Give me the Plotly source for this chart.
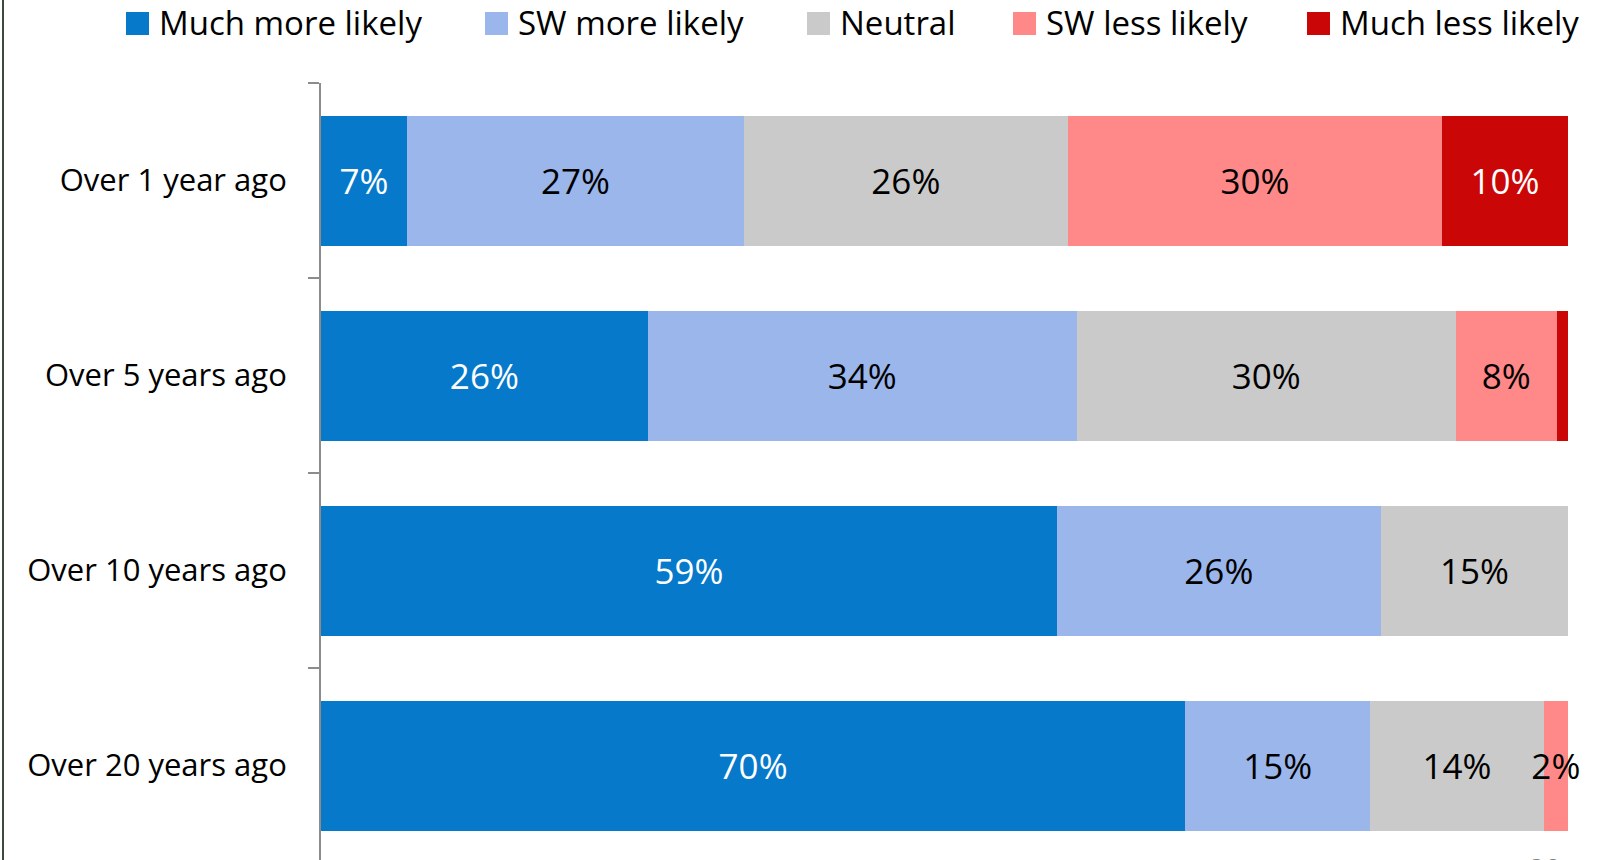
import plotly.graph_objects as go

# ---------------- data ----------------
categories = ["Over 1 year ago", "Over 5 years ago", "Over 10 years ago", "Over 20 years ago"]
series_names = ["Much more likely", "SW more likely", "Neutral", "SW less likely", "Much less likely"]

much_more = [6.9, 26.2, 59.0, 69.3]
sw_more = [27.0, 34.4, 26.0, 14.85]
neutral = [26.0, 30.4, 15.0, 13.9]
sw_less = [30.0, 8.1, 0.0, 1.95]
much_less = [10.1, 0.9, 0.0, 0.0]

much_more_labels = ["7%", "26%", "59%", "70%"]
sw_more_labels = ["27%", "34%", "26%", "15%"]
neutral_labels = ["26%", "30%", "15%", "14%"]
sw_less_labels = ["30%", "8%", "", "2%"]
much_less_labels = ["10%", "", "", ""]

page_number = "20"

# ---------------- style ----------------
colors = ["#0679CB", "#9BB6EA", "#CACACA", "#FF8888", "#CB0606"]
text_colors = ["#FFFFFF", "#000000", "#000000", "#000000", "#FFFFFF"]
FONT = "Open Sans"

W, H = 1609, 860
ML, MR, MT, MB = 321, 41, 83, 0
PW, PH = W - ML - MR, H - MT - MB
BAND = 195.0


def px2x(px):
    return (px - ML) / PW


def py2y(py):
    return (H - MB - py) / PH


values = [much_more, sw_more, neutral, sw_less, much_less]
labels = [much_more_labels, sw_more_labels, neutral_labels, sw_less_labels, much_less_labels]

fig = go.Figure()
for name, vals, labs, col, tcol in zip(series_names, values, labels, colors, text_colors):
    fig.add_trace(go.Bar(
        y=categories, x=vals, name=name, orientation="h",
        marker=dict(color=col, line=dict(width=0)),
        text=labs, textposition="inside", insidetextanchor="middle",
        textangle=0, cliponaxis=False,
        textfont=dict(family=FONT, size=35, color=tcol),
        hoverinfo="skip",
    ))

fig.update_layout(
    width=W, height=H,
    margin=dict(l=ML, r=MR, t=MT, b=MB, pad=0),
    barmode="stack", bargap=1 - 130 / 195,
    plot_bgcolor="white", paper_bgcolor="white",
    showlegend=False,
    uniformtext=dict(mode="show", minsize=35),
    font=dict(family=FONT, color="#000000"),
)

fig.update_xaxes(range=[0, 100], visible=False, showgrid=False, zeroline=False, fixedrange=True)
fig.update_yaxes(
    type="category", categoryorder="array", categoryarray=categories,
    range=[-0.5 + PH / BAND, -0.5],
    showgrid=False, zeroline=False,
    showline=True, linecolor="#8C8C8C", linewidth=2,
    ticks="outside", tickson="boundaries", ticklen=11, tickwidth=2, tickcolor="#8C8C8C",
    tickfont=dict(family=FONT, size=31, color="#000000"),
    ticklabelstandoff=26,
)

# ---- custom legend (large squares) ----
legend_sq_left = [126, 485, 807, 1013, 1307]
SQ = 23
SQ_TOP = 12
shapes = []
annotations = []
for name, col, sx in zip(series_names, colors, legend_sq_left):
    shapes.append(dict(type="rect", xref="paper", yref="paper",
                       x0=px2x(sx), x1=px2x(sx + SQ), y0=py2y(SQ_TOP + SQ), y1=py2y(SQ_TOP),
                       fillcolor=col, line=dict(width=0), layer="above"))
    annotations.append(dict(xref="paper", yref="paper", x=px2x(sx + 31), y=py2y(SQ_TOP + SQ / 2 - 1),
                            xanchor="left", yanchor="middle", text=name, showarrow=False,
                            font=dict(family=FONT, size=33, color="#000000")))

# left border line
shapes.append(dict(type="line", xref="paper", yref="paper",
                   x0=px2x(3), x1=px2x(3), y0=py2y(0), y1=py2y(H),
                   line=dict(color="#3B4B3B", width=2)))

# page number partly cut off at the bottom
annotations.append(dict(xref="paper", yref="paper", x=px2x(1545), y=py2y(847),
                        xanchor="center", yanchor="top", text=page_number, showarrow=False,
                        font=dict(family=FONT, size=28, color="#7F7F7F")))

fig.update_layout(shapes=shapes, annotations=annotations)

fig.write_html("out.html", config={"displayModeBar": False},
               post_script="document.body.style.margin='0px';")
